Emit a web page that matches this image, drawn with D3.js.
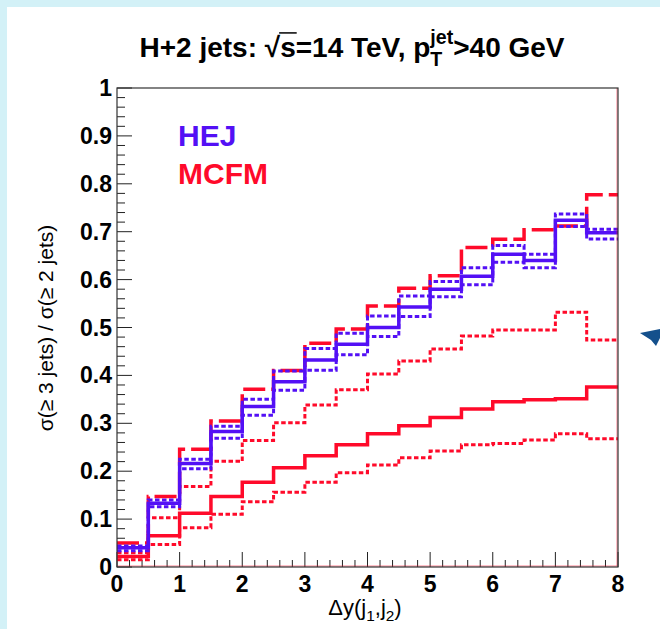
<!DOCTYPE html>
<html>
<head>
<meta charset="utf-8">
<script src="https://cdn.jsdelivr.net/npm/d3@7"></script>
<style>
  body { margin: 0; background: #fff; }
  svg { display: block; }
  text { font-family: "Liberation Sans", Arial, Helvetica, sans-serif; }
</style>
</head>
<body>
<div id="chart"></div>
<script>
// bin edges in delta y(j1,j2)
const binEdges = [0, 0.5, 1, 1.5, 2, 2.5, 3, 3.5, 4, 4.5, 5, 5.5, 6, 6.5, 7, 7.5, 8];

// HEJ central and scale variations
const hej   = [0.040, 0.133, 0.216, 0.283, 0.335, 0.387, 0.432, 0.465, 0.500, 0.543, 0.580, 0.607, 0.653, 0.640, 0.724, 0.698];
const hejUp = [0.044, 0.140, 0.225, 0.294, 0.350, 0.409, 0.456, 0.488, 0.524, 0.566, 0.596, 0.625, 0.671, 0.653, 0.737, 0.705];
const hejLo = [0.034, 0.126, 0.205, 0.269, 0.317, 0.369, 0.411, 0.443, 0.481, 0.523, 0.564, 0.589, 0.636, 0.625, 0.711, 0.685];

// MCFM
const mcfmDash  = [0.050, 0.147, 0.246, 0.305, 0.371, 0.410, 0.467, 0.497, 0.545, 0.582, 0.608, 0.667, 0.684, 0.704, 0.712, 0.777];
const mcfm      = [0.022, 0.065, 0.112, 0.147, 0.177, 0.207, 0.232, 0.255, 0.278, 0.295, 0.312, 0.330, 0.345, 0.349, 0.351, 0.376];
const mcfmDotUp = [0.030, 0.103, 0.168, 0.221, 0.264, 0.301, 0.338, 0.370, 0.403, 0.430, 0.455, 0.482, 0.495, 0.495, 0.532, 0.474];
const mcfmDotLo = [0.015, 0.047, 0.082, 0.110, 0.136, 0.156, 0.177, 0.197, 0.213, 0.228, 0.242, 0.255, 0.258, 0.265, 0.278, 0.268];

const xTicks = [0, 1, 2, 3, 4, 5, 6, 7, 8];
const yTicks = [0, 0.1, 0.2, 0.3, 0.4, 0.5, 0.6, 0.7, 0.8, 0.9, 1];
const yTickLabels = ["0", "0.1", "0.2", "0.3", "0.4", "0.5", "0.6", "0.7", "0.8", "0.9", "1"];

const BLUE = "#5310f5";
const RED = "#ff0a2a";

const W = 660, H = 629;
const svg = d3.select("#chart").append("svg").attr("width", W).attr("height", H);

// light cyan border strips of the slide
svg.append("rect").attr("x", 0).attr("y", 0).attr("width", W).attr("height", 7).attr("fill", "#d3f1f7");
svg.append("rect").attr("x", 0).attr("y", 0).attr("width", 7).attr("height", H).attr("fill", "#d3f1f7");

const x = d3.scaleLinear().domain([0, 8]).range([117, 618]);
const y = d3.scaleLinear().domain([0, 1]).range([567, 88]);

// ticks
const tickG = svg.append("g").attr("stroke", "#222").attr("stroke-width", 1);
d3.range(0, 41).forEach(i => {
  const v = i * 0.2;
  const len = i % 5 === 0 ? 15 : 7;
  tickG.append("line").attr("x1", x(v)).attr("x2", x(v)).attr("y1", 567).attr("y2", 567 - len);
});
d3.range(0, 51).forEach(i => {
  const v = i * 0.02;
  const len = i % 5 === 0 ? 15 : 8;
  tickG.append("line").attr("x1", 117).attr("x2", 117 + len).attr("y1", y(v)).attr("y2", y(v));
});

// histograms (step outline, no drop to zero at the edges)
function histPath(vals) {
  const pts = [];
  vals.forEach((v, i) => {
    pts.push([binEdges[i], v]);
    pts.push([binEdges[i + 1], v]);
  });
  return d3.line().x(d => x(d[0])).y(d => y(d[1]))(pts);
}

const series = [
  {vals: mcfmDotLo, color: RED, width: 3, dash: "4.5,2.5"},
  {vals: mcfmDotUp, color: RED, width: 3, dash: "4.5,2.5"},
  {vals: mcfm, color: RED, width: 3.5, dash: null},
  {vals: mcfmDash, color: RED, width: 3.5, dash: "22,6"},
  {vals: hejLo, color: BLUE, width: 3, dash: "4.5,2.5"},
  {vals: hejUp, color: BLUE, width: 3, dash: "4.5,2.5"},
  {vals: hej, color: BLUE, width: 3.5, dash: null}
];

svg.append("g").selectAll("path")
  .data(series)
  .enter().append("path")
  .attr("d", d => histPath(d.vals))
  .attr("fill", "none")
  .attr("stroke", d => d.color)
  .attr("stroke-width", d => d.width)
  .attr("stroke-dasharray", d => d.dash)
  .attr("stroke-linejoin", "miter")
  .attr("stroke-linecap", "butt");

// faint red baseline and right edge of the histograms
svg.append("path").attr("d", `M${x(0)},${y(0) - 1} H${x(8) - 1} V88`)
  .attr("fill", "none").attr("stroke", RED).attr("stroke-opacity", 0.5).attr("stroke-width", 1);

// frame
svg.append("rect").attr("x", 117).attr("y", 88).attr("width", 501).attr("height", 479)
  .attr("fill", "none").attr("stroke", "#333").attr("stroke-width", 1.2);

// tick labels
svg.append("g").selectAll("text")
  .data(yTicks)
  .enter().append("text")
  .attr("x", 112)
  .attr("y", d => y(d) + 8)
  .attr("text-anchor", "end")
  .attr("font-size", 23).attr("font-weight", "bold")
  .text((d, i) => yTickLabels[i]);

svg.append("g").selectAll("text")
  .data(xTicks)
  .enter().append("text")
  .attr("x", d => x(d))
  .attr("y", 592)
  .attr("text-anchor", "middle")
  .attr("font-size", 23).attr("font-weight", "bold")
  .text(d => d);

// rich text helper: pieces placed one after another, sub/sup stacked
function richText(cx, baseY, size, weight, pieces) {
  const g = svg.append("g");
  const items = [];
  pieces.forEach(p => {
    const s = size * (p.scale || 1);
    const t = g.append("text").attr("font-size", s).attr("font-weight", weight)
      .attr("y", baseY + (p.dy || 0)).text(p.text);
    items.push({t, w: t.node().getComputedTextLength(), p});
  });
  let total = 0;
  items.forEach((it, i) => {
    if (it.p.stackWithNext) return;
    const prev = i > 0 && items[i - 1].p.stackWithNext ? items[i - 1].w : 0;
    total += Math.max(it.w, prev);
  });
  let cursor = cx - total / 2;
  items.forEach((it, i) => {
    it.t.attr("x", cursor);
    if (it.p.overline) {
      g.append("line").attr("x1", cursor - 1).attr("x2", cursor + it.w + 1)
        .attr("y1", baseY - size * 0.86).attr("y2", baseY - size * 0.86)
        .attr("stroke", "#000").attr("stroke-width", 1.5);
    }
    if (it.p.stackWithNext) return;
    const prev = i > 0 && items[i - 1].p.stackWithNext ? items[i - 1].w : 0;
    cursor += Math.max(it.w, prev);
  });
  return g;
}

// title
richText(352, 57, 28, "bold", [
  {text: "H+2 jets: \u221A"},
  {text: "s", overline: true},
  {text: "=14 TeV, p"},
  {text: "jet", scale: 0.7, dy: -13, stackWithNext: true},
  {text: "T", scale: 0.7, dy: 9},
  {text: ">40 GeV"}
]);

// x title
richText(365, 615, 22, "normal", [
  {text: "\u0394y(j"},
  {text: "1", scale: 0.7, dy: 6},
  {text: ",j"},
  {text: "2", scale: 0.7, dy: 6},
  {text: ")"}
]);

// y title
svg.append("text")
  .attr("transform", "translate(53,328) rotate(-90)")
  .attr("text-anchor", "middle")
  .attr("font-size", 21)
  .text("\u03C3(\u2265 3 jets) / \u03C3(\u2265 2 jets)");

// legend
svg.append("text").attr("x", 178).attr("y", 146).attr("font-size", 30).attr("font-weight", "bold")
  .attr("fill", BLUE).text("HEJ");
svg.append("text").attr("x", 178).attr("y", 184).attr("font-size", 30).attr("font-weight", "bold")
  .attr("fill", RED).text("MCFM");

// arrow pointer at slide edge
svg.append("path")
  .attr("d", "M640,333 L660,329 L660,338 L656,346 L651,340 Z")
  .attr("fill", "#14508c");
</script>
</body>
</html>
